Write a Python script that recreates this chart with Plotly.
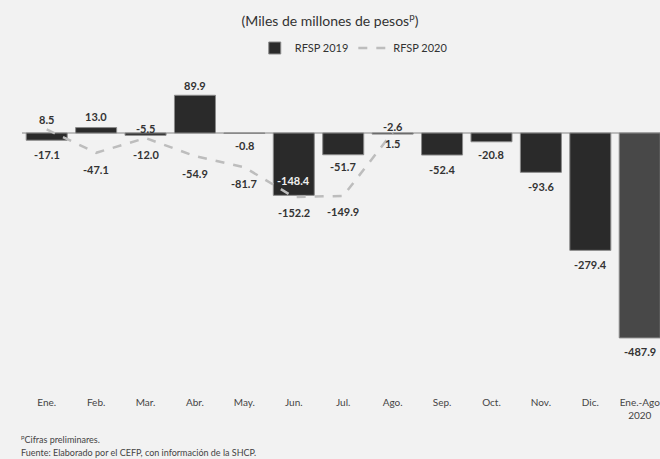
import plotly.graph_objects as go

# Data (miles de millones de pesos)
months = ['Ene.', 'Feb.', 'Mar.', 'Abr.', 'May.', 'Jun.', 'Jul.', 'Ago.',
          'Sep.', 'Oct.', 'Nov.', 'Dic.', 'Ene.-Ago<br>2020']
rfsp_2019 = [-17.1, 13.0, -5.5, 89.9, -0.8, -148.4, -51.7, -2.6,
             -52.4, -20.8, -93.6, -279.4, -487.9]
rfsp_2020 = [8.5, -47.1, -12.0, -54.9, -81.7, -152.2, -149.9, 1.5]

# label placement (pixels from the mark, + = up)
bar_label_shift = [-14, 11, 7, 10, -12, 15, -12, 8, -14, -13, -14, -14, -14]
bar_label_color = ['#333333'] * 13
bar_label_color[5] = '#f0f0f0'
line_label_shift = [10, -17, -16, -17, -16, -16, -16, -11]

bar_colors = ['#2a2a2a'] * 12 + ['#484848']

fig = go.Figure()

fig.add_trace(go.Bar(
    x=months, y=rfsp_2019, name='RFSP 2019',
    marker=dict(color=bar_colors, line=dict(color='#8a8a8a', width=1)),
    hoverinfo='x+y'
))

fig.add_trace(go.Scatter(
    x=months[:len(rfsp_2020)], y=rfsp_2020, name='RFSP 2020',
    mode='lines',
    line=dict(color='#bdbdbd', width=2.5, dash='dash'),
    hoverinfo='x+y'
))

annotations = []
for m, v, s, c in zip(months, rfsp_2019, bar_label_shift, bar_label_color):
    annotations.append(dict(
        x=m, y=v, text=f'<b>{v:.1f}</b>', showarrow=False,
        yshift=s, font=dict(family='Lato', size=11, color=c)
    ))
for m, v, s in zip(months, rfsp_2020, line_label_shift):
    annotations.append(dict(
        x=m, y=v, text=f'<b>{v:.1f}</b>', showarrow=False,
        yshift=s, font=dict(family='Lato', size=11, color='#333333')
    ))

annotations += [
    dict(xref='paper', yref='paper', x=-0.005, y=-0.16875, xanchor='left', yanchor='middle',
         text='<sup>p</sup>Cifras preliminares.', showarrow=False,
         font=dict(family='Lato', size=9, color='#444444')),
    dict(xref='paper', yref='paper', x=-0.005, y=-0.2094, xanchor='left', yanchor='middle',
         text='Fuente: Elaborado por el CEFP, con información de la SHCP.',
         showarrow=False, font=dict(family='Lato', size=9, color='#444444')),
]

fig.update_layout(
    width=660, height=459,
    margin=dict(l=22, r=0, t=65, b=74, autoexpand=False),
    paper_bgcolor='#f2f2f2', plot_bgcolor='#f2f2f2',
    title=dict(text='(Miles de millones de pesos<sup>p</sup>)', x=0.5, xanchor='center',
               y=0.955, yanchor='middle', font=dict(family='Lato', size=14, color='#333333')),
    legend=dict(orientation='h', x=0.52, xanchor='center', yref='container',
                y=1 - 48 / 459, yanchor='middle',
                font=dict(family='Lato', size=11, color='#333333'),
                bgcolor='rgba(0,0,0,0)'),
    bargap=0.17,
    xaxis=dict(range=[-0.5, 12.41], showgrid=False, showline=False, ticks='',
               automargin=False, ticklabeloverflow='allow', ticklabelstandoff=10,
               tickfont=dict(family='Lato', size=10, color='#444444')),
    yaxis=dict(range=[-600, 162], showgrid=False, showticklabels=False,
               automargin=False,
               zeroline=True, zerolinecolor='#bcbcbc', zerolinewidth=1.5),
    annotations=annotations,
    font=dict(family='Lato')
)

# drop the default page margin so the figure fills the window
fig.write_html('out.html', config={'displayModeBar': False},
               post_script="document.body.style.margin='0';")
